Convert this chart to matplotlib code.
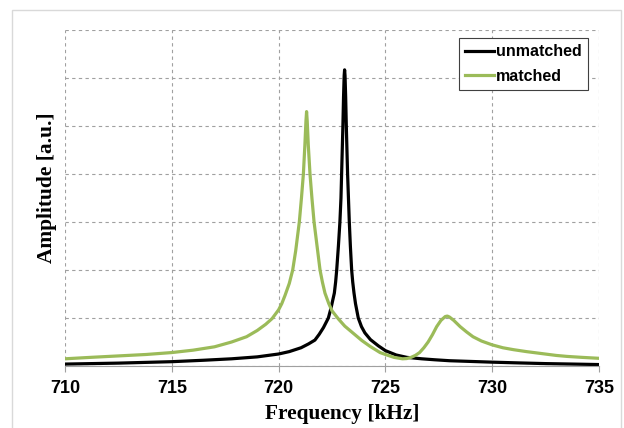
import matplotlib
matplotlib.use("Agg")
import matplotlib.pyplot as plt
from matplotlib.patches import Rectangle

# Values (frequency in kHz, amplitude in a.u.)
unmatched_f = [710.0, 712.5, 715.0, 716.5, 717.8, 719.0, 720.0, 720.5, 721.05,
               721.4, 721.7, 721.9, 722.1, 722.33, 722.45, 722.55, 722.61,
               722.67, 722.72, 722.8, 722.87, 722.92, 722.95, 722.98, 723.01,
               723.04, 723.07, 723.09, 723.11, 723.14, 723.17, 723.2, 723.23,
               723.27, 723.31, 723.36, 723.42, 723.47, 723.53, 723.6, 723.73,
               723.88, 724.04, 724.3, 724.67, 725.0, 725.5, 726.0, 726.7,
               727.3, 728.0, 729.0, 730.0, 731.2, 732.5, 733.8, 735.0]
unmatched_a = [0.04, 0.06, 0.09, 0.12, 0.15, 0.19, 0.25, 0.30, 0.38,
               0.46, 0.54, 0.66, 0.80, 1.0, 1.2, 1.4, 1.52,
               1.75, 2.0, 2.5, 3.0, 3.5, 4.0, 4.5, 5.0,
               5.6, 6.05, 6.17, 6.05, 5.6, 5.0, 4.5, 4.0,
               3.5, 3.0, 2.5, 2.0, 1.75, 1.52, 1.3, 1.0,
               0.82, 0.69, 0.55, 0.42, 0.32, 0.23, 0.18, 0.15,
               0.13, 0.11, 0.095, 0.08, 0.065, 0.05, 0.04, 0.03]

matched_f = [710.0, 711.2, 712.5, 713.8, 715.0, 716.0, 717.0, 717.8, 718.5,
             719.0, 719.4, 719.7, 720.0, 720.15, 720.3, 720.5, 720.66, 720.8,
             720.97, 721.07, 721.16, 721.23, 721.28, 721.31, 721.34, 721.39,
             721.47, 721.56, 721.66, 721.8, 721.94, 722.05, 722.17, 722.35,
             722.5, 722.8, 723.1, 723.5, 723.9, 724.28, 724.75, 725.0, 725.4,
             725.8, 726.0, 726.2, 726.4, 726.6, 726.8, 727.0, 727.2, 727.4,
             727.6, 727.8, 727.9, 728.0, 728.2, 728.5, 728.8, 729.1, 729.5,
             730.0, 730.5, 731.0, 731.6, 732.3, 733.0, 733.5, 734.2, 735.0]
matched_a = [0.15, 0.18, 0.21, 0.24, 0.28, 0.33, 0.40, 0.50, 0.61,
             0.74, 0.87, 0.99, 1.17, 1.30, 1.47, 1.72, 2.0, 2.4,
             3.0, 3.5, 4.0, 4.6, 5.1, 5.30, 5.1, 4.6,
             4.0, 3.5, 3.0, 2.5, 2.0, 1.75, 1.52, 1.3,
             1.15, 0.98, 0.83, 0.68, 0.53, 0.41, 0.28, 0.24, 0.18,
             0.15, 0.155, 0.18, 0.22, 0.28, 0.38, 0.50, 0.65, 0.82,
             0.95, 1.03, 1.04, 1.02, 0.95, 0.82, 0.71, 0.61, 0.52,
             0.44, 0.38, 0.34, 0.30, 0.26, 0.22, 0.20, 0.18, 0.16]

x_ticks = [710, 715, 720, 725, 730, 735]

fig = plt.figure(figsize=(6.24, 4.28), dpi=100)

# light outer frame like the original chart area
fig.patches.append(Rectangle((12 / 624, -0.05), 609 / 624, 1 - 10 / 428 + 0.05,
                             transform=fig.transFigure, fill=False,
                             edgecolor="#d9d9d9", linewidth=1.0))

ax = fig.add_axes([65 / 624, 1 - 366 / 428, 534 / 624, 336 / 428])

ax.plot(unmatched_f, unmatched_a, color="black", linewidth=2.3, label="unmatched",
        solid_joinstyle="round")
ax.plot(matched_f, matched_a, color="#9bbb59", linewidth=2.3, label="matched",
        solid_joinstyle="round")

ax.set_xlim(710, 735)
ax.set_ylim(0, 7)
ax.set_xticks(x_ticks)
ax.set_yticks(range(0, 8))
ax.set_yticklabels([])
ax.tick_params(axis="y", length=0)
ax.tick_params(axis="x", length=4, color="#a0a0a0", pad=6, direction="out")
for lab in ax.get_xticklabels():
    lab.set_fontfamily("Liberation Sans")
    lab.set_fontweight("bold")
    lab.set_fontsize(13)

ax.grid(True, color="#a0a0a0", linestyle=(0, (3, 3)), linewidth=0.8)
for side in ["left", "top", "right"]:
    ax.spines[side].set_visible(False)
ax.spines["bottom"].set_color("#a0a0a0")
ax.set_axisbelow(True)

ax.set_xlabel("Frequency [kHz]", fontfamily="Liberation Serif", fontweight="bold",
              fontsize=15.4, labelpad=5)
ax.set_ylabel("Amplitude [a.u.]", fontfamily="Liberation Serif", fontweight="bold",
              fontsize=15.4, labelpad=2)
# the original labels sit a little off the axes centre
ax.xaxis.label.set_x(0.52)
ax.yaxis.label.set_y(0.53)

leg = ax.legend(loc="upper right", bbox_to_anchor=(0.979, 0.976), borderaxespad=0,
                fancybox=False, framealpha=1, edgecolor="#404040", handlelength=1.8,
                handletextpad=0.1, borderpad=0.4, labelspacing=0.6,
                prop={"family": "Liberation Sans", "weight": "bold", "size": 11.5})
leg.get_frame().set_linewidth(0.8)

fig.savefig("out.png", dpi=100)
